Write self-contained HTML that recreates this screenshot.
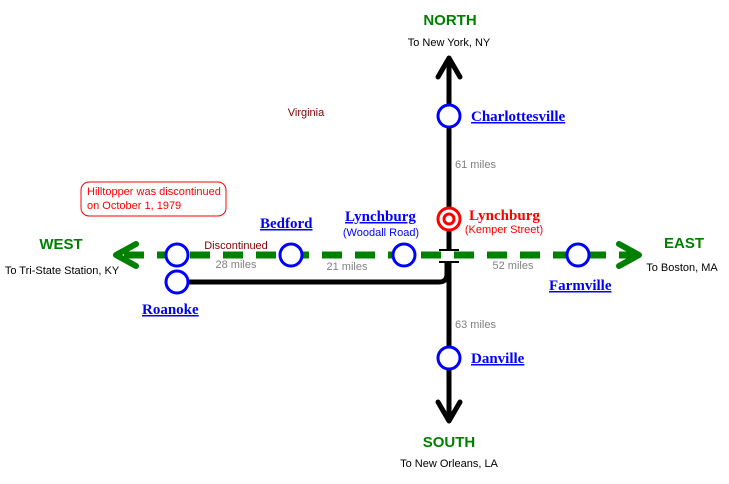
<!DOCTYPE html>
<html><head><meta charset="utf-8"><style>
body{margin:0;background:#fff}
svg{display:block}
.s{font-family:"Liberation Sans",sans-serif}
.t{font-family:"Liberation Serif",serif;font-weight:bold;font-size:15px;fill:#0000ff;text-decoration:underline}
</style></head><body>
<svg width="729" height="484" viewBox="0 0 729 484" xmlns="http://www.w3.org/2000/svg">
<!-- vertical line -->
<line x1="449" y1="60" x2="449" y2="250" stroke="#000" stroke-width="5"/>
<line x1="449" y1="262" x2="449" y2="418" stroke="#000" stroke-width="5"/>
<line x1="439" y1="250" x2="459" y2="250" stroke="#000" stroke-width="2"/>
<line x1="439" y1="262" x2="459" y2="262" stroke="#000" stroke-width="2"/>
<polyline points="438,77 449,58 460,77" fill="none" stroke="#000" stroke-width="5" stroke-linecap="round" stroke-linejoin="round"/>
<polyline points="438,402 449,421 460,402" fill="none" stroke="#000" stroke-width="5" stroke-linecap="round" stroke-linejoin="round"/>
<!-- black line to Roanoke -->
<path d="M177 282 H439 Q447 282 447 274 V262" fill="none" stroke="#000" stroke-width="5"/>
<!-- green dashed -->
<line x1="122" y1="255" x2="636" y2="255" stroke="#008000" stroke-width="7" stroke-dasharray="20,13" stroke-dashoffset="-2"/>
<polyline points="136,244 116,255 136,266" fill="none" stroke="#008000" stroke-width="6" stroke-linecap="round" stroke-linejoin="round"/>
<polyline points="619,244 639,255 619,266" fill="none" stroke="#008000" stroke-width="6" stroke-linecap="round" stroke-linejoin="round"/>
<!-- stations -->
<g fill="#fff" stroke="#0000ff" stroke-width="3">
<circle cx="449" cy="116" r="11"/>
<circle cx="449" cy="358" r="11"/>
<circle cx="177" cy="255" r="11"/>
<circle cx="177" cy="282" r="11"/>
<circle cx="291" cy="255" r="11"/>
<circle cx="404" cy="255" r="11"/>
<circle cx="578" cy="255" r="11"/>
</g>
<circle cx="449" cy="219" r="11" fill="#fff" stroke="#ff0000" stroke-width="3"/>
<circle cx="449" cy="219" r="5" fill="#fff" stroke="#ff0000" stroke-width="3"/>
<!-- labels -->
<g class="s">
<text x="450" y="25" font-size="15" font-weight="bold" fill="#008000" text-anchor="middle">NORTH</text>
<text x="449" y="46" font-size="11" text-anchor="middle">To New York, NY</text>
<text x="449" y="447" font-size="15" font-weight="bold" fill="#008000" text-anchor="middle">SOUTH</text>
<text x="449" y="467" font-size="11" text-anchor="middle">To New Orleans, LA</text>
<text x="61" y="249" font-size="15" font-weight="bold" fill="#008000" text-anchor="middle">WEST</text>
<text x="62" y="274" font-size="11" text-anchor="middle">To Tri-State Station, KY</text>
<text x="684" y="248" font-size="15" font-weight="bold" fill="#008000" text-anchor="middle">EAST</text>
<text x="682" y="271" font-size="11" text-anchor="middle">To Boston, MA</text>
<text x="306" y="116" font-size="11" fill="#800000" text-anchor="middle">Virginia</text>
<text x="236" y="249" font-size="11" fill="#800000" text-anchor="middle">Discontinued</text>
<text x="236" y="268" font-size="11" fill="#808080" text-anchor="middle">28 miles</text>
<text x="347" y="270" font-size="11" fill="#808080" text-anchor="middle">21 miles</text>
<text x="513" y="269" font-size="11" fill="#808080" text-anchor="middle">52 miles</text>
<text x="455" y="168" font-size="11" fill="#808080">61 miles</text>
<text x="455" y="328" font-size="11" fill="#808080">63 miles</text>
<text x="381" y="236" font-size="11" fill="#0000ff" text-anchor="middle">(Woodall Road)</text>
<text x="504" y="233" font-size="11" fill="#ff0000" text-anchor="middle">(Kemper Street)</text>
</g>
<rect x="81" y="182" width="145" height="34" rx="8" fill="#fff" stroke="#ff0000" stroke-width="1"/>
<text class="s" x="87" y="195" font-size="11" fill="#ff0000">Hilltopper was discontinued</text>
<text class="s" x="87" y="209" font-size="11" fill="#ff0000">on October 1, 1979</text>
<text class="t" x="471" y="121">Charlottesville</text>
<text class="t" x="471" y="363">Danville</text>
<text class="t" x="260" y="228">Bedford</text>
<text class="t" x="345" y="221">Lynchburg</text>
<text class="t" x="142" y="314">Roanoke</text>
<text class="t" x="549" y="290">Farmville</text>
<text x="469" y="220" font-family="Liberation Serif,serif" font-weight="bold" font-size="15" fill="#ff0000">Lynchburg</text>
</svg>
</body></html>
